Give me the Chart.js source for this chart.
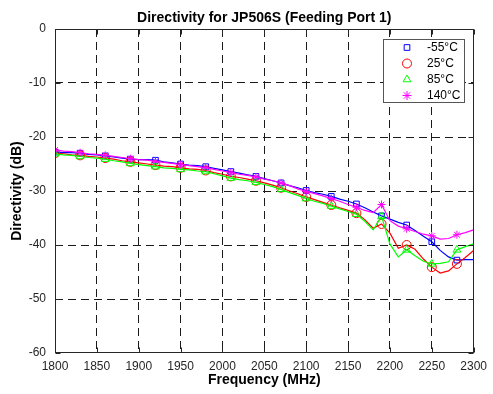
<!DOCTYPE html>
<html>
<head>
<meta charset="utf-8">
<script src="https://cdn.jsdelivr.net/npm/chart.js"></script>
<style>
  html, body { margin: 0; padding: 0; background: #fff; }
  #wrap { width: 493px; height: 394px; }
</style>
</head>
<body>
<div id="wrap"><canvas id="directivityChart" width="493" height="394"></canvas></div>
<script>
'use strict';

// Frequency sweep (MHz), sampled every 10 MHz
const frequencies = [
    1800, 1810, 1820, 1830, 1840, 1850, 1860, 1870, 1880, 1890,
    1900, 1910, 1920, 1930, 1940, 1950, 1960, 1970, 1980, 1990,
    2000, 2010, 2020, 2030, 2040, 2050, 2060, 2070, 2080, 2090,
    2100, 2110, 2120, 2130, 2140, 2150, 2160, 2170, 2180, 2190,
    2200, 2210, 2220, 2230, 2240, 2250, 2260, 2270, 2280, 2290, 2300
];

// Directivity (dB) per temperature
const dirMinus55 = [
    -22.8, -22.9, -22.9, -23.0, -23.2, -23.3, -23.5, -23.7, -23.9, -24.1,
    -24.2, -24.2, -24.3, -24.6, -24.8, -25.0, -25.2, -25.3, -25.5, -25.8,
    -26.1, -26.4, -26.7, -27.0, -27.3, -27.7, -28.1, -28.5, -29.0, -29.4,
    -29.9, -30.3, -30.6, -31.0, -31.5, -31.9, -32.4, -33.1, -33.9, -34.6,
    -35.2, -35.8, -36.3, -37.3, -38.4, -39.4, -41.0, -42.2, -42.8, -42.7, -42.7
];
const dir25 = [
    -23.0, -23.1, -23.3, -23.4, -23.6, -23.7, -23.9, -24.1, -24.4, -24.6,
    -24.8, -25.0, -25.2, -25.4, -25.5, -25.7, -25.9, -26.0, -26.2, -26.6,
    -26.9, -27.3, -27.5, -27.8, -28.1, -28.5, -28.9, -29.4, -30.0, -30.5,
    -31.1, -31.6, -32.1, -32.6, -33.1, -33.6, -34.1, -35.3, -36.9, -36.1,
    -37.8, -40.6, -40.0, -40.8, -42.6, -44.1, -45.2, -44.8, -43.5, -42.3, -41.0
];
const dir85 = [
    -23.1, -23.3, -23.4, -23.6, -23.8, -23.9, -24.1, -24.4, -24.6, -24.9,
    -25.1, -25.3, -25.5, -25.7, -25.8, -26.0, -26.1, -26.3, -26.4, -26.8,
    -27.2, -27.6, -27.9, -28.1, -28.4, -28.8, -29.2, -29.7, -30.3, -30.8,
    -31.4, -31.9, -32.3, -32.8, -33.3, -33.8, -34.3, -35.6, -37.2, -34.7,
    -39.8, -42.2, -40.9, -42.0, -43.0, -43.5, -43.4, -43.1, -40.9, -40.3, -39.8
];
const dir140 = [
    -22.4, -22.6, -22.7, -22.9, -23.1, -23.2, -23.4, -23.6, -23.8, -24.0,
    -24.2, -24.3, -24.5, -24.7, -24.9, -25.1, -25.3, -25.5, -25.7, -26.0,
    -26.3, -26.6, -26.9, -27.1, -27.4, -27.8, -28.1, -28.5, -29.0, -29.6,
    -30.1, -30.5, -30.9, -31.4, -31.9, -32.5, -33.0, -33.6, -34.0, -32.5,
    -35.5, -36.5, -37.0, -37.5, -38.0, -38.3, -38.9, -38.8, -38.1, -37.7, -37.2
];

const seriesLabels = ['-55\u00B0C', '25\u00B0C', '85\u00B0C', '140\u00B0C'];
const xTicks = [1800, 1850, 1900, 1950, 2000, 2050, 2100, 2150, 2200, 2250, 2300];
const yTicks = [-60, -50, -40, -30, -20, -10, 0];
const chartTitle = 'Directivity for JP506S (Feeding Port 1)';

const AXIS_COLOR = '#262626';
const FONT = "'Liberation Sans', Arial, Helvetica, sans-serif";

// marker on every 3rd sample (every 30 MHz)
function markerRadius(r) {
    return ctx => (ctx.dataIndex % 3 === 0 ? r : 0);
}

function makeSeries(label, values, color, style, radius, order) {
    return {
        label: label,
        data: values.map((v, i) => ({ x: frequencies[i], y: v })),
        borderColor: color,
        borderWidth: 1.2,
        backgroundColor: 'rgba(0,0,0,0)',
        pointStyle: style,
        pointRadius: markerRadius(radius),
        pointHoverRadius: markerRadius(radius),
        pointBorderColor: color,
        pointBackgroundColor: 'rgba(0,0,0,0)',
        pointBorderWidth: 1,
        tension: 0,
        fill: false,
        order: order
    };
}

function drawMarker(ctx, style, radius, x, y) {
    if (Chart.helpers && Chart.helpers.drawPoint) {
        Chart.helpers.drawPoint(ctx, { pointStyle: style, radius: radius, rotation: 0, borderWidth: 1 }, x, y);
        return;
    }
    ctx.beginPath();
    ctx.arc(x, y, radius, 0, Math.PI * 2);
    ctx.stroke();
}

// MATLAB-like box, inward ticks, title and legend
const matlabFrame = {
    id: 'matlabFrame',
    afterDraw(chart) {
        const { ctx, chartArea: a, scales } = chart;
        const L = Math.round(a.left) + 0.5, R = Math.round(a.right) - 0.5;
        const T = Math.round(a.top) + 0.5, B = Math.round(a.bottom) - 0.5;
        const tick = 5;
        ctx.save();
        ctx.strokeStyle = AXIS_COLOR;
        ctx.lineWidth = 1;
        ctx.setLineDash([]);
        ctx.strokeRect(L, T, R - L, B - T);
        ctx.beginPath();
        xTicks.forEach(v => {
            const px = Math.round(scales.x.getPixelForValue(v)) + 0.5;
            ctx.moveTo(px, B); ctx.lineTo(px, B - tick);
            ctx.moveTo(px, T); ctx.lineTo(px, T + tick);
        });
        yTicks.forEach(v => {
            const py = Math.round(scales.y.getPixelForValue(v)) + 0.5;
            ctx.moveTo(L, py); ctx.lineTo(L + tick, py);
            ctx.moveTo(R, py); ctx.lineTo(R - tick, py);
        });
        ctx.stroke();

        // title, centred over the axes box
        ctx.fillStyle = '#000000';
        ctx.font = 'bold 14px ' + FONT;
        ctx.textAlign = 'center';
        ctx.textBaseline = 'middle';
        ctx.fillText(chartTitle, (a.left + a.right) / 2, 18);

        // legend box
        const bx = 383.5, by = 39.5, bw = 81, bh = 63;
        ctx.fillStyle = '#ffffff';
        ctx.fillRect(bx, by, bw, bh);
        ctx.strokeStyle = '#555555';
        ctx.strokeRect(bx, by, bw, bh);
        const rows = [47.5, 63.5, 79.5, 95.5];
        ctx.font = '12px ' + FONT;
        ctx.textBaseline = 'middle';
        ctx.textAlign = 'left';
        chart.data.datasets.forEach((ds, i) => {
            ctx.strokeStyle = ds.borderColor;
            ctx.fillStyle = 'rgba(0,0,0,0)';
            const r = ds.pointStyle === 'rect' ? 4 : 4.5;
            drawMarker(ctx, ds.pointStyle, r, 407, rows[i]);
            ctx.fillStyle = '#000000';
            ctx.fillText(ds.label, 427, rows[i] + 0.5);
        });
        ctx.restore();
    }
};

function chartInit() {
    const canvas = document.getElementById('directivityChart');
    const ctx = canvas.getContext('2d');
    return new Chart(ctx, {
        type: 'line',
        data: {
            datasets: [
                makeSeries(seriesLabels[0], dirMinus55, '#0000ff', 'rect', 4, 3),
                makeSeries(seriesLabels[1], dir25, '#ff0000', 'circle', 4.5, 2),
                makeSeries(seriesLabels[2], dir85, '#00ff00', 'triangle', 4.5, 1),
                makeSeries(seriesLabels[3], dir140, '#ff00ff', 'star', 4, 0)
            ]
        },
        options: {
            responsive: false,
            animation: false,
            layout: { padding: { left: 0, right: 18, top: 29, bottom: 0 } },
            plugins: {
                legend: { display: false },
                tooltip: { enabled: false },
                title: { display: false }
            },
            scales: {
                x: {
                    type: 'linear',
                    min: 1800,
                    max: 2300,
                    afterBuildTicks: axis => { axis.ticks = xTicks.map(v => ({ value: v })); },
                    afterFit: axis => { axis.height = 41; },
                    grid: {
                        color: c => (c.tick && (c.tick.value === 1800 || c.tick.value === 2300)) ? 'rgba(0,0,0,0)' : '#1a1a1a',
                        lineWidth: 1,
                        drawTicks: false
                    },
                    border: { display: false, dash: [8, 5] },
                    ticks: {
                        color: AXIS_COLOR,
                        font: { family: FONT, size: 12 },
                        padding: 6,
                        maxRotation: 0,
                        autoSkip: false,
                        callback: v => String(v)
                    },
                    title: {
                        display: true,
                        text: 'Frequency (MHz)',
                        color: '#000000',
                        font: { family: FONT, size: 14, weight: 'bold' },
                        padding: { top: 0, bottom: 5 }
                    }
                },
                y: {
                    type: 'linear',
                    min: -60,
                    max: 0,
                    afterBuildTicks: axis => { axis.ticks = yTicks.map(v => ({ value: v })); },
                    afterFit: axis => { axis.width = 55; },
                    grid: {
                        color: c => (c.tick && (c.tick.value === -60 || c.tick.value === 0)) ? 'rgba(0,0,0,0)' : '#1a1a1a',
                        lineWidth: 1,
                        drawTicks: false
                    },
                    border: { display: false, dash: [8, 5] },
                    ticks: {
                        color: AXIS_COLOR,
                        font: { family: FONT, size: 12 },
                        padding: 9,
                        autoSkip: false,
                        callback: v => String(v)
                    },
                    title: {
                        display: true,
                        text: 'Directivity (dB)',
                        color: '#000000',
                        font: { family: FONT, size: 14, weight: 'bold' },
                        padding: { top: 9, bottom: 0 }
                    }
                }
            }
        },
        plugins: [matlabFrame]
    });
}

chartInit();
</script>
</body>
</html>
